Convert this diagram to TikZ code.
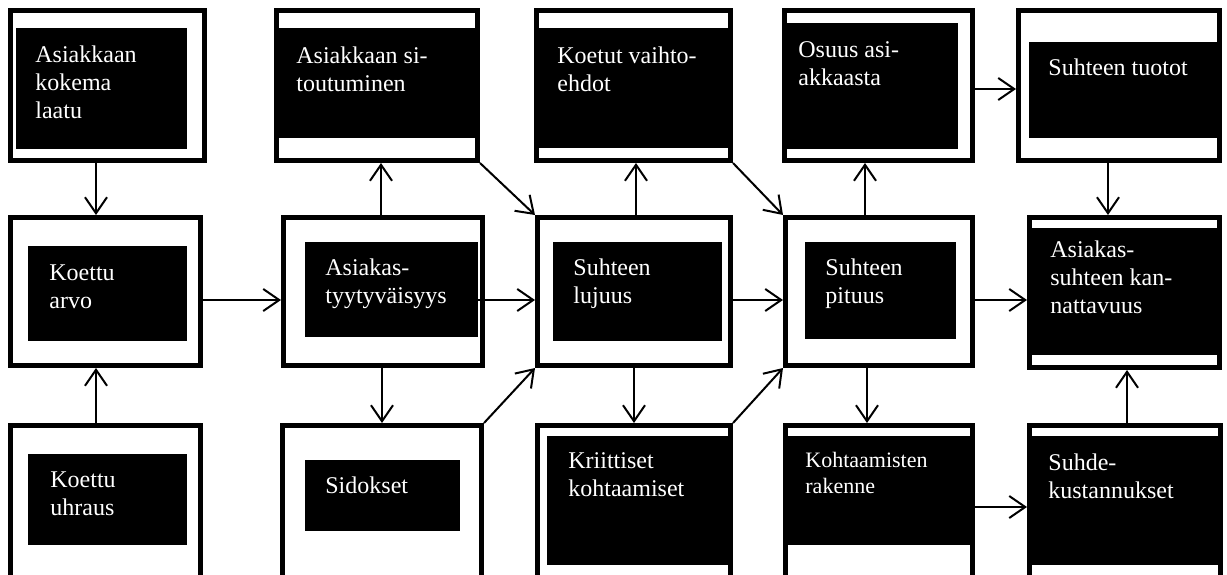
\documentclass[tikz,border=0pt]{standalone}
\usepackage{fontspec}
\setmainfont{Liberation Serif}
\usetikzlibrary{fit,arrows.meta}
\tikzset{
  frame/.style={draw, line width=2.5pt, inner sep=0pt},
  core/.style={fill=black, inner sep=0pt},
  txt/.style={text=white, align=left, inner sep=0pt, anchor=base west,
    font=\fontsize{12}{14}\selectfont},
  arr/.style={-{Straight Barb[length=8pt,width=11pt]}, line width=1pt},
}
\begin{document}
\begin{tikzpicture}[x=0.5pt,y=-0.5pt]
\useasboundingbox (0,0) rectangle (1227,574);
% top row
\node[frame, fit={(10.5,10.5) (204.5,160.5)}] (kokema) {};
\node[frame, fit={(276.5,10.5) (477.5,160.5)}] (sitoutuminen) {};
\node[frame, fit={(536.5,10.5) (730.5,160.5)}] (vaihtoehdot) {};
\node[frame, fit={(784.5,10.5) (972.5,160.5)}] (osuus) {};
\node[frame, fit={(1018.5,10.5) (1219.5,160.5)}] (tuotot) {};
% middle row
\node[frame, fit={(10.5,217.5) (200.5,365.5)}] (arvo) {};
\node[frame, fit={(283.5,217.5) (482.5,365.5)}] (tyytyvaisyys) {};
\node[frame, fit={(537.5,217.5) (730.5,365.5)}] (lujuus) {};
\node[frame, fit={(785.5,217.5) (972.5,365.5)}] (pituus) {};
\node[frame, fit={(1029.5,217.5) (1219.5,367.5)}] (kannattavuus) {};
% bottom row
\node[frame, fit={(10.5,425.5) (200.5,577)}] (uhraus) {};
\node[frame, fit={(282.5,425.5) (481.5,577)}] (sidokset) {};
\node[frame, fit={(537.5,425.5) (730.5,577)}] (kriittiset) {};
\node[frame, fit={(785.5,425.5) (972.5,577)}] (rakenne) {};
\node[frame, fit={(1029.5,425.5) (1220.5,577)}] (kustannukset) {};

% black fields
\node[core, fit={(16,28) (187,149)}] (kokema-in) {};
\node[core, fit={(279,28) (475,138)}] (sitoutuminen-in) {};
\node[core, fit={(539,28) (728,148)}] (vaihtoehdot-in) {};
\node[core, fit={(787,23) (958,149)}] (osuus-in) {};
\node[core, fit={(1029,42) (1217,138)}] (tuotot-in) {};
\node[core, fit={(28,246) (187,341)}] (arvo-in) {};
\node[core, fit={(305,242) (478,337)}] (tyytyvaisyys-in) {};
\node[core, fit={(553,242) (722,341)}] (lujuus-in) {};
\node[core, fit={(805,242) (956,339)}] (pituus-in) {};
\node[core, fit={(1032,228) (1217,355)}] (kannattavuus-in) {};
\node[core, fit={(28,454) (187,545)}] (uhraus-in) {};
\node[core, fit={(305,460) (460,531)}] (sidokset-in) {};
\node[core, fit={(547,436) (728,565)}] (kriittiset-in) {};
\node[core, fit={(788,436) (970,545)}] (rakenne-in) {};
\node[core, fit={(1032,436) (1218,565)}] (kustannukset-in) {};

% texts (placed at the baseline of their last line)
\node[txt] (kokema-t) at (35,118) {Asiakkaan\\kokema\\laatu};
\node[txt] (sitoutuminen-t) at (296,91) {Asiakkaan si-\\toutuminen};
\node[txt] (vaihtoehdot-t) at (557,91) {Koetut vaihto-\\ehdot};
\node[txt] (osuus-t) at (798,85) {Osuus asi-\\akkaasta};
\node[txt] (tuotot-t) at (1048,75) {Suhteen tuotot};
\node[txt] (arvo-t) at (49,308) {Koettu\\arvo};
\node[txt] (tyytyvaisyys-t) at (325,303) {Asiakas-\\tyytyväisyys};
\node[txt] (lujuus-t) at (573,303) {Suhteen\\lujuus};
\node[txt] (pituus-t) at (825,303) {Suhteen\\pituus};
\node[txt] (kannattavuus-t) at (1050,313) {Asiakas-\\suhteen kan-\\nattavuus};
\node[txt] (uhraus-t) at (50,515) {Koettu\\uhraus};
\node[txt] (sidokset-t) at (325,493) {Sidokset};
\node[txt] (kriittiset-t) at (568,496) {Kriittiset\\kohtaamiset};
\node[txt, font=\fontsize{11}{13}\selectfont] (rakenne-t) at (805,493) {Kohtaamisten\\rakenne};
\node[txt] (kustannukset-t) at (1048,498) {Suhde-\\kustannukset};

% vertical links
\draw[arr] (96,0 |- kokema.south) -- (96,0 |- arvo.north);
\draw[arr] (96,0 |- uhraus.north) -- (96,0 |- arvo.south);
\draw[arr] (381,0 |- tyytyvaisyys.north) -- (381,0 |- sitoutuminen.south);
\draw[arr] (382,0 |- tyytyvaisyys.south) -- (382,0 |- sidokset.north);
\draw[arr] (636,0 |- lujuus.north) -- (636,0 |- vaihtoehdot.south);
\draw[arr] (634,0 |- lujuus.south) -- (634,0 |- kriittiset.north);
\draw[arr] (865,0 |- pituus.north) -- (865,0 |- osuus.south);
\draw[arr] (867,0 |- pituus.south) -- (867,0 |- rakenne.north);
\draw[arr] (1108,0 |- tuotot.south) -- (1108,0 |- kannattavuus.north);
\draw[arr] (1127,0 |- kustannukset.north) -- (1127,0 |- kannattavuus.south);

% horizontal links
\draw[arr] (arvo.east |- 0,300) -- (tyytyvaisyys.west |- 0,300);
\draw[arr] (tyytyvaisyys-in.east |- 0,300) -- (lujuus.west |- 0,300);
\draw[arr] (lujuus.east |- 0,300) -- (pituus.west |- 0,300);
\draw[arr] (pituus.east |- 0,300) -- (kannattavuus.west |- 0,300);
\draw[arr] (osuus.east |- 0,89) -- (tuotot.west |- 0,89);
\draw[arr] (rakenne.east |- 0,507) -- (kustannukset.west |- 0,507);

% diagonal links
\draw[arr] (sitoutuminen.south east) -- (lujuus.north west);
\draw[arr] (sidokset.north east) -- (lujuus.south west);
\draw[arr] (vaihtoehdot.south east) -- (pituus.north west);
\draw[arr] (kriittiset.north east) -- (pituus.south west);
\end{tikzpicture}
\end{document}
